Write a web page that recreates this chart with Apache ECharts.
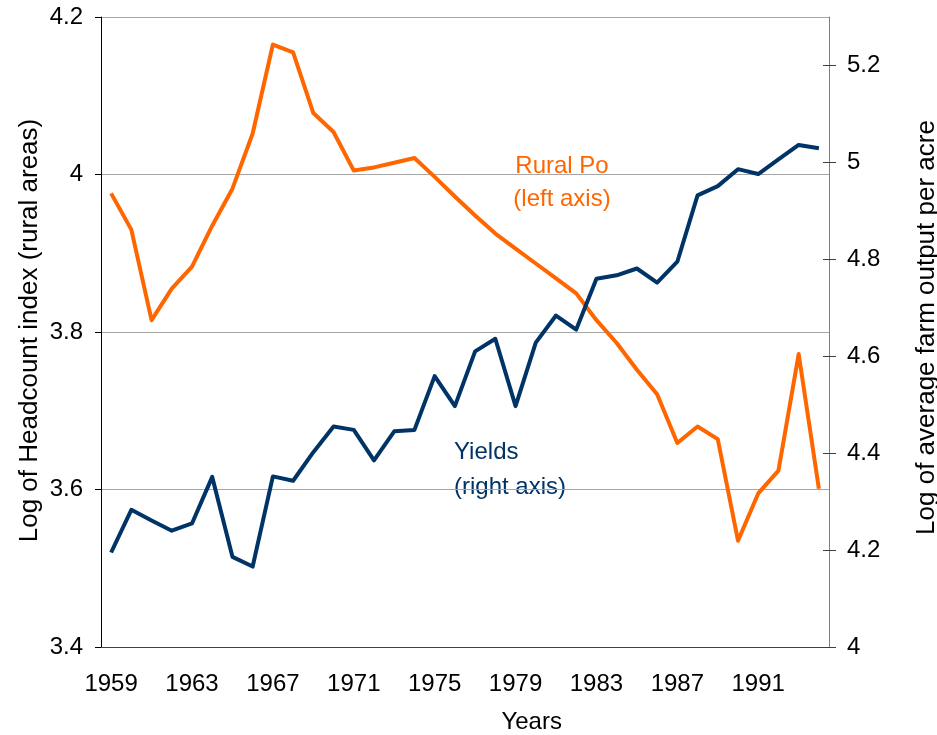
<!DOCTYPE html>
<html>
<head>
<meta charset="utf-8">
<script src="https://cdn.jsdelivr.net/npm/echarts@6/dist/echarts.min.js"></script>
<style>
html,body{margin:0;padding:0;background:#fff;}
#chart{width:937px;height:735px;}
</style>
</head>
<body>
<div id="chart"></div>
<script>
const years = ['1959','1960','1961','1962','1963','1964','1965','1966','1967','1968','1969','1970','1971','1972','1973','1974','1975','1976','1977','1978','1979','1980','1981','1982','1983','1984','1985','1986','1987','1988','1989','1990','1991','1992','1993','1994'];
const ruralPop = [3.976,3.930,3.815,3.855,3.883,3.935,3.982,4.052,4.165,4.155,4.078,4.054,4.005,4.009,4.015,4.021,3.997,3.972,3.948,3.925,3.906,3.887,3.868,3.849,3.815,3.786,3.752,3.721,3.659,3.680,3.664,3.535,3.595,3.624,3.772,3.601];
const yields = [4.195,4.283,4.261,4.240,4.255,4.351,4.186,4.166,4.352,4.343,4.402,4.455,4.448,4.385,4.445,4.448,4.559,4.497,4.610,4.636,4.497,4.628,4.684,4.655,4.760,4.767,4.781,4.752,4.795,4.932,4.951,4.986,4.976,5.006,5.036,5.029];
const rightTicks = [4,4.2,4.4,4.6,4.8,5,5.2];

const FONT = '"Liberation Sans", Arial, sans-serif';
const ORANGE = '#FF6600';
const NAVY = '#003366';

const chart = echarts.init(document.getElementById('chart'), null, {renderer:'canvas'});
chart.setOption({
  animation: false,
  backgroundColor: '#ffffff',
  textStyle: {fontFamily: FONT},
  grid: {left: 101, right: 108, top: 17, bottom: 88, containLabel: false},
  xAxis: {
    type: 'category',
    data: years,
    boundaryGap: true,
    axisLine: {show: true, lineStyle: {color: '#404040', width: 1}},
    axisTick: {show: false},
    axisLabel: {interval: 3, margin: 25, color: '#000', fontSize: 24, fontFamily: FONT},
    splitLine: {show: false}
  },
  yAxis: [
    {
      type: 'value', position: 'left', min: 3.4, max: 4.2, interval: 0.2,
      axisLine: {show: true, lineStyle: {color: '#000', width: 1}},
      axisTick: {show: true, length: 6, inside: false, lineStyle: {color: '#000'}},
      axisLabel: {margin: 18, color: '#000', fontSize: 24, fontFamily: FONT},
      splitLine: {show: true, lineStyle: {color: '#A6A6A6', width: 1}}
    },
    {
      type: 'value', position: 'right', min: 4, max: 5.3, interval: 0.2,
      axisLine: {show: true, lineStyle: {color: '#808080', width: 1}},
      axisTick: {show: true, length: 7, inside: false, customValues: rightTicks, lineStyle: {color: '#404040'}},
      axisLabel: {margin: 18, color: '#000', fontSize: 24, fontFamily: FONT, customValues: rightTicks},
      splitLine: {show: false}
    },
    {
      type: 'value', position: 'right', min: 4, max: 5.3, interval: 0.2,
      axisLine: {show: false},
      axisTick: {show: true, length: 6, inside: true, customValues: rightTicks, lineStyle: {color: '#404040'}},
      axisLabel: {show: false},
      splitLine: {show: false}
    }
  ],
  series: [
    {
      name: 'Rural Po', type: 'line', yAxisIndex: 0, data: ruralPop,
      showSymbol: false, symbol: 'none', smooth: false,
      lineStyle: {color: ORANGE, width: 4, join: 'round'}, itemStyle: {color: ORANGE}
    },
    {
      name: 'Yields', type: 'line', yAxisIndex: 1, data: yields,
      showSymbol: false, symbol: 'none', smooth: false,
      lineStyle: {color: NAVY, width: 4, join: 'round'}, itemStyle: {color: NAVY}
    }
  ],
  graphic: [
    {type: 'text', x: 30, y: 330.5, rotation: Math.PI/2,
     style: {text: 'Log of Headcount index (rural areas)', fill: '#000', font: '26px ' + FONT, textAlign: 'center', textVerticalAlign: 'middle'}},
    {type: 'text', x: 927, y: 327.5, rotation: Math.PI/2,
     style: {text: 'Log of average farm output per acre', fill: '#000', font: '26px ' + FONT, textAlign: 'center', textVerticalAlign: 'middle'}},
    {type: 'text', x: 531.7, y: 722.5,
     style: {text: 'Years', fill: '#000', font: '24px ' + FONT, textAlign: 'center', textVerticalAlign: 'middle'}},
    {type: 'text', x: 562, y: 166,
     style: {text: 'Rural Po', fill: ORANGE, font: '24px ' + FONT, textAlign: 'center', textVerticalAlign: 'middle'}},
    {type: 'text', x: 562, y: 199,
     style: {text: '(left axis)', fill: ORANGE, font: '24px ' + FONT, textAlign: 'center', textVerticalAlign: 'middle'}},
    {type: 'text', x: 454, y: 452,
     style: {text: 'Yields', fill: NAVY, font: '24px ' + FONT, textAlign: 'left', textVerticalAlign: 'middle'}},
    {type: 'text', x: 454, y: 487,
     style: {text: '(right axis)', fill: NAVY, font: '24px ' + FONT, textAlign: 'left', textVerticalAlign: 'middle'}}
  ]
});
</script>
</body>
</html>
